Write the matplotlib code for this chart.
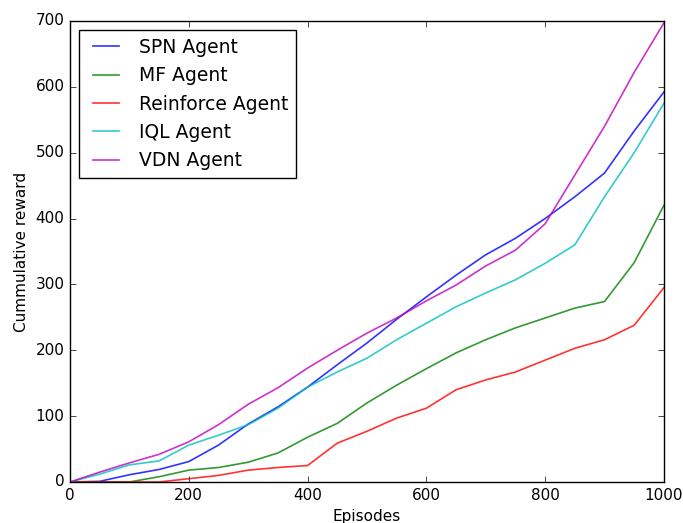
import matplotlib
matplotlib.use("Agg")
import matplotlib.pyplot as plt

plt.style.use("classic")

# --- Data (every 50 episodes) ---
episodes = [0, 50, 100, 150, 200, 250, 300, 350, 400, 450, 500,
            550, 600, 650, 700, 750, 800, 850, 900, 950, 1000]

spn = [0, 1, 11, 19, 31, 56, 88, 114, 144, 178, 211,
       247, 281, 314, 345, 370, 400, 433, 469, 533, 592]
mf = [0, 0, 0, 8, 18, 22, 30, 44, 68, 89, 120,
      147, 172, 196, 216, 234, 249, 264, 274, 333, 420]
reinforce = [0, 0, 0, 0, 5, 10, 18, 22, 25, 59, 77,
             97, 112, 140, 155, 167, 185, 203, 216, 238, 295]
iql = [0, 12, 26, 32, 56, 71, 87, 112, 144, 167, 188,
       216, 241, 266, 287, 307, 332, 360, 433, 500, 575]
vdn = [0, 15, 29, 42, 61, 87, 118, 143, 173, 200, 226,
       249, 275, 299, 328, 352, 392, 466, 540, 622, 697]

series = [
    ("SPN Agent", spn, "b"),
    ("MF Agent", mf, "g"),
    ("Reinforce Agent", reinforce, "r"),
    ("IQL Agent", iql, "c"),
    ("VDN Agent", vdn, "m"),
]

# --- Chart ---
fig = plt.figure(figsize=(6.83, 5.23), dpi=100, facecolor="white")
ax = fig.add_axes([0.1025, 0.0784, 0.8695, 0.8815])

for label, values, color in series:
    ax.plot(episodes, values, color=color, linewidth=1.2, alpha=0.8, label=label)

ax.set_xlim(0, 1000)
ax.set_ylim(0, 700)
ax.set_xlabel("Episodes", fontsize=11)
ax.set_ylabel("Cummulative reward", fontsize=11)
ax.tick_params(labelsize=11)

ax.legend(loc="upper left", fontsize=13.5)

plt.savefig("out.png", dpi=100, facecolor="white")
